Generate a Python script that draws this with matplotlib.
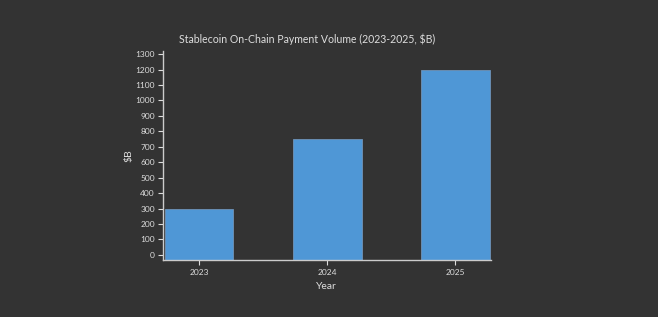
import matplotlib.pyplot as plt
import numpy as np

# data
years = ['2023', '2024', '2025']
volume = [300, 750, 1200]
y_ticks = list(range(0, 1400, 100))

bg = '#333333'
fg = '#dddddd'
bar_color = '#4f97d6'

plt.rcParams['font.family'] = ['Lato', 'DejaVu Sans']

fig = plt.figure(figsize=(6.58, 3.17), dpi=100, facecolor=bg)
ax = fig.add_axes([0.247, 0.180, 0.499, 0.659], facecolor=bg)

# y scale runs 0..1320, the axis line sits a few pixels below zero
ymax = max(volume) * 1.1
ymin = -ymax * 5 / 204
x = np.arange(len(years))
ax.bar(x, np.array(volume) - ymin, bottom=ymin, width=0.537,
       color=bar_color, edgecolor='#6f93b8', linewidth=0.6, zorder=2)

ax.set_xlim(-0.284, 2.276)
ax.set_ylim(ymin, ymax)
ax.set_xticks(x)
ax.set_xticklabels(years)
ax.set_yticks(y_ticks)

for s in ['top', 'right']:
    ax.spines[s].set_visible(False)
ax.spines['left'].set_bounds(ymin, ymax)
for s in ['left', 'bottom']:
    ax.spines[s].set_color('#cccccc')
    ax.spines[s].set_linewidth(1.0)

ax.tick_params(colors=fg, labelsize=6, length=3.5, width=0.8, pad=2)
ax.tick_params(axis='x', pad=3)

ax.set_xlabel('Year', color=fg, fontsize=7.5, labelpad=4.5)
ax.set_ylabel(r'\$B', color=fg, fontsize=7.5, labelpad=1)

fig.text(307.5 / 658, 1 - 39 / 317, r'Stablecoin On-Chain Payment Volume (2023-2025, \$B)',
         color=fg, fontsize=7.6, ha='center', va='center')

fig.savefig('out.png', dpi=100, facecolor=bg)
